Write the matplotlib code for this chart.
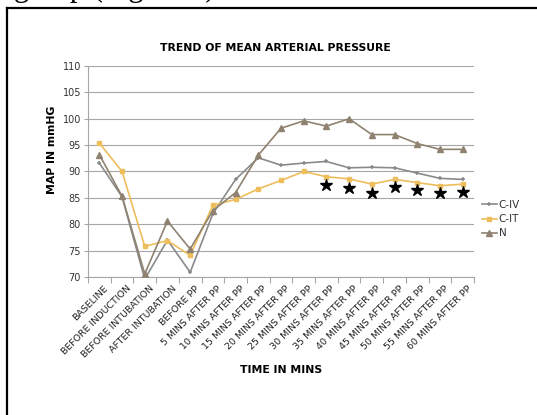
import matplotlib
matplotlib.use("Agg")
import matplotlib.pyplot as plt
from matplotlib.lines import Line2D
import numpy as np

categories = [
    "BASELINE", "BEFORE INDUCTION", "BEFORE INTUBATION", "AFTER INTUBATION",
    "BEFORE PP", "5 MINS AFTER PP", "10 MINS AFTER PP", "15 MINS AFTER PP",
    "20 MINS AFTER PP", "25 MINS AFTER PP", "30 MINS AFTER PP",
    "35 MINS AFTER PP", "40 MINS AFTER PP", "45 MINS AFTER PP",
    "50 MINS AFTER PP", "55 MINS AFTER PP", "60 MINS AFTER PP",
]
c_iv = [91.6, 85.2, 69.6, 77.0, 70.9, 82.0, 88.5, 92.6, 91.2, 91.6,
        91.9, 90.7, 90.8, 90.7, 89.7, 88.7, 88.5]
c_it = [95.4, 90.0, 75.8, 76.9, 74.1, 83.6, 84.7, 86.7, 88.3, 90.0,
        89.0, 88.6, 87.6, 88.5, 87.9, 87.3, 87.6]
n_grp = [93.2, 85.3, 70.6, 80.6, 75.3, 82.6, 86.0, 93.1, 98.2, 99.6,
         98.6, 100.0, 97.0, 97.0, 95.3, 94.2, 94.2]
# significance stars placed below C-IT from 30 to 60 mins
star_idx = [10, 11, 12, 13, 14, 15, 16]
star_y = [87.4, 86.9, 85.9, 87.0, 86.4, 86.0, 86.2]
yticks = [70, 75, 80, 85, 90, 95, 100, 105, 110]

W, H = 537, 415
fig = plt.figure(figsize=(W / 100, H / 100), dpi=100)
font = "DejaVu Sans"

# outer frame of the figure panel (runs off the right and bottom edges)
fig.add_artist(Line2D([7 / W, 7 / W], [0, 1 - 8 / H], color="black", lw=1.6,
                      transform=fig.transFigure))
fig.add_artist(Line2D([7 / W, 1], [1 - 8 / H, 1 - 8 / H], color="black", lw=1.6,
                      transform=fig.transFigure))
# running text of the page above the figure; only its lower edge is on the page
fig.text(14 / W, 1 + 4 / H, "group (Figure 2)", family="Liberation Serif",
         fontsize=22, va="baseline", ha="left", transform=fig.transFigure)

ax_l, ax_r, ax_t, ax_b = 88, 474, 66, 277
ax = fig.add_axes([ax_l / W, 1 - ax_b / H, (ax_r - ax_l) / W, (ax_b - ax_t) / H])

x = np.arange(len(categories))
ax.plot(x, c_iv, color="#8a8a8a", lw=1.2, marker="+", ms=3.5, mew=1.1, label="C-IV", zorder=3)
ax.plot(x, c_it, color="#eebd5c", lw=1.2, marker="s", ms=3.4, label="C-IT", zorder=3)
ax.plot(x, n_grp, color="#8f8270", lw=1.2, marker="^", ms=3.8, label="N", zorder=3)
ax.plot(star_idx, star_y, ls="none", marker="*", color="black", ms=9, zorder=4)

ax.set_xlim(-0.5, len(categories) - 0.5)
ax.set_ylim(70, 110)
ax.set_yticks(yticks)
ax.set_yticklabels([str(v) for v in yticks], fontsize=7, color="#333333", family=font)
ax.grid(axis="y", color="#a6a6a6", lw=0.8)
ax.set_axisbelow(True)
for s in ["top", "right"]:
    ax.spines[s].set_visible(False)
for s in ["left", "bottom"]:
    ax.spines[s].set_color("#a6a6a6")
    ax.spines[s].set_linewidth(0.8)
ax.tick_params(axis="y", length=3, color="#a6a6a6", pad=2)

# category ticks between points, labels at point centres
ax.set_xticks(np.arange(len(categories) + 1) - 0.5)
ax.set_xticklabels([])
ax.tick_params(axis="x", length=4, color="#a6a6a6")
for i, c in enumerate(categories):
    ax.annotate(c, xy=(i, 70), xycoords="data", xytext=(3, -5),
                textcoords="offset points", rotation=45, ha="right", va="top",
                rotation_mode="anchor", fontsize=6.8, color="#222222", family=font,
                annotation_clip=False)

fig.text(275 / W, 1 - 48 / H, "TREND OF MEAN ARTERIAL PRESSURE", ha="center",
         va="center", fontsize=7.8, fontweight="bold", family=font)
fig.text(281 / W, 1 - 370 / H, "TIME IN MINS", ha="center", va="center",
         fontsize=7.8, fontweight="bold", family=font)
fig.text(52 / W, 1 - 150 / H, "MAP IN mmHG", ha="center", va="center",
         rotation=90, fontsize=7.8, fontweight="bold", family=font)

leg = fig.legend(loc="upper left", bbox_to_anchor=(482 / W, 1 - 200 / H),
                 frameon=False, fontsize=7.5, handlelength=1.4, handletextpad=0.2,
                 labelspacing=0.4, borderaxespad=0, borderpad=0)
for t in leg.get_texts():
    t.set_color("#333333")

fig.savefig("out.png", dpi=100)
